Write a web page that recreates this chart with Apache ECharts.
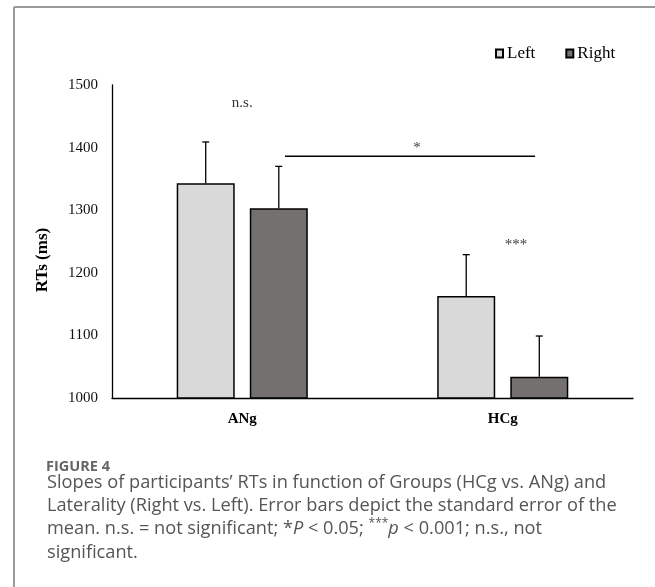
<!DOCTYPE html>
<html>
<head>
    <meta charset="utf-8">
    <title>RTs by group</title>
    <script src="https://cdn.jsdelivr.net/npm/echarts@6/dist/echarts.min.js"></script>
    <style>
        html, body { margin: 0; padding: 0; background: #fff; }
    </style>
</head>
<body>
    <div id="main" style="width:655px;height:587px;"></div>
    <script type="text/javascript">
        // data
        var groups = ['ANg', 'HCg'];
        var seriesNames = ['Left', 'Right'];
        var leftMeans = [1343, 1163];
        var rightMeans = [1303, 1034];
        var leftSE = [66, 66];
        var rightSE = [67, 65];
        var yTicks = [1000, 1100, 1200, 1300, 1400, 1500];

        // significance marks: [x on 0..2 overlay axis, y value, text]
        var sigLine = [[0.664, 1386], [1.624, 1386]];
        var sigTexts = [[0.5, 1471, 'n.s.'], [1.171, 1400, '*'], [1.551, 1245, '***']];

        var serif = '"Liberation Serif", "Times New Roman", serif';
        var barW = 58;
        var barGapPct = 0.26;

        function errData(means, se) {
            var out = [];
            for (var i = 0; i < means.length; i++) {
                out.push([i, means[i], means[i] + se[i]]);
            }
            return out;
        }

        function errRender(side) {
            return function (params, api) {
                var top = api.coord([api.value(0), api.value(2)]);
                var base = api.coord([api.value(0), api.value(1)]);
                var off = side * (barW + barW * barGapPct) / 2;
                var x = top[0] + off;
                return {
                    type: 'group',
                    children: [
                        { type: 'line', shape: { x1: x, y1: base[1], x2: x, y2: top[1] }, style: { stroke: '#000', lineWidth: 1.3 } },
                        { type: 'line', shape: { x1: x - 3.5, y1: top[1], x2: x + 3.5, y2: top[1] }, style: { stroke: '#000', lineWidth: 1.3 } }
                    ]
                };
            };
        }

        var myChart = echarts.init(document.getElementById('main'));

        var option = {
            backgroundColor: '#fff',
            animation: false,
            grid: { left: 112, right: 22, top: 85, bottom: 189 },
            legend: {
                left: 490, top: 40,
                itemWidth: 7, itemHeight: 8, itemGap: 30,
                icon: 'rect',
                data: seriesNames,
                textStyle: { fontFamily: serif, fontSize: 17, color: '#000', padding: [0, 0, 0, -1] }
            },
            xAxis: [{
                type: 'category',
                data: groups,
                axisLine: { lineStyle: { color: '#000', width: 1.3 } },
                axisTick: { show: false },
                axisLabel: { fontFamily: serif, fontWeight: 'bold', fontSize: 15, color: '#000', margin: 14 }
            }, {
                type: 'value',
                min: 0, max: 2,
                show: false
            }],
            yAxis: {
                type: 'value',
                min: 1000, max: 1500, interval: 100,
                axisLine: { show: true, lineStyle: { color: '#000', width: 1.3 } },
                axisTick: { show: false },
                splitLine: { show: false },
                axisLabel: {
                    fontFamily: serif, fontSize: 15, color: '#111', margin: 14,
                    customValues: yTicks,
                    formatter: function (v) { return String(v); }
                }
            },
            series: [{
                name: seriesNames[0],
                type: 'bar',
                data: leftMeans,
                barWidth: barW,
                barGap: (barGapPct * 100) + '%',
                itemStyle: { color: '#d9d9d9', borderColor: '#000', borderWidth: 1.5 }
            }, {
                name: seriesNames[1],
                type: 'bar',
                data: rightMeans,
                barWidth: barW,
                itemStyle: { color: '#757070', borderColor: '#000', borderWidth: 1.5 }
            }, {
                type: 'custom',
                renderItem: errRender(-1),
                data: errData(leftMeans, leftSE),
                encode: { x: 0, y: [1, 2] },
                z: 5
            }, {
                type: 'custom',
                renderItem: errRender(1),
                data: errData(rightMeans, rightSE),
                encode: { x: 0, y: [1, 2] },
                z: 5
            }, {
                type: 'line',
                xAxisIndex: 1,
                data: sigLine,
                symbol: 'none',
                lineStyle: { color: '#000', width: 1.5 },
                silent: true
            }, {
                type: 'scatter',
                xAxisIndex: 1,
                data: sigTexts,
                symbolSize: 0,
                label: {
                    show: true,
                    position: 'inside',
                    formatter: function (p) { return p.data[2]; },
                    fontFamily: serif, fontSize: 15, color: '#000'
                },
                silent: true
            }],
            graphic: [
                { type: 'line', shape: { x1: 14, y1: 7, x2: 655, y2: 7 }, style: { stroke: '#9a9a9a', lineWidth: 2 } },
                { type: 'line', shape: { x1: 14, y1: 7, x2: 14, y2: 587 }, style: { stroke: '#9a9a9a', lineWidth: 2 } },
                {
                    type: 'text', x: 43, y: 260, rotation: Math.PI / 2,
                    style: {
                        text: 'RTs (ms)', fontFamily: serif, fontWeight: 'bold', fontSize: 17,
                        fill: '#000', align: 'center', verticalAlign: 'middle'
                    }
                },
                {
                    type: 'text', left: 46, top: 459,
                    style: { text: 'FIGURE 4', fontFamily: '"Open Sans"', fontWeight: 'bold', fontSize: 14.5, fill: '#666' }
                },
                {
                    type: 'text', left: 47, top: 471,
                    style: {
                        text: 'Slopes of participants\u2019 RTs in function of Groups (HCg vs. ANg) and\n' +
                            'Laterality (Right vs. Left). Error bars depict the standard error of the\n' +
                            'mean. n.s. = not significant; *{i|P} < 0.05; {sup|***}{i|p} < 0.001; n.s., not\n' +
                            'significant.',
                        fontFamily: '"Open Sans"', fontSize: 18.2, fill: '#555', lineHeight: 23.3,
                        rich: {
                            i: { fontFamily: '"Open Sans"', fontStyle: 'italic', fontSize: 18.2, fill: '#555', lineHeight: 23.3 },
                            sup: { fontFamily: '"Open Sans"', fontSize: 12, fill: '#555', verticalAlign: 'top', lineHeight: 23.3, padding: [0, 0, 6, 0] }
                        }
                    }
                }
            ]
        };

        myChart.setOption(option);
    </script>
</body>
</html>
